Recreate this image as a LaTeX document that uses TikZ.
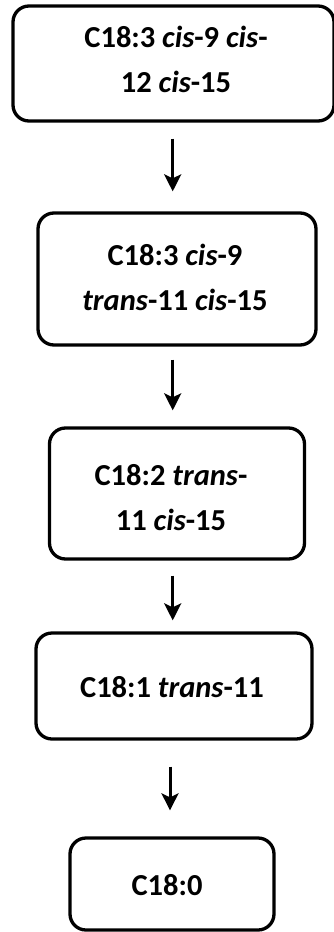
\documentclass[tikz,border=0pt]{standalone}
\usepackage{fontspec}
\setmainfont{Carlito}
\usetikzlibrary{arrows.meta}
\begin{document}
\begin{tikzpicture}[x=1pt,y=-1pt,
  stage/.style={draw=black, line width=3.3pt, rounded corners=16pt, inner sep=0pt},
  caption/.style={align=center, inner sep=0pt,
    font=\fontsize{30.5}{45}\selectfont\bfseries},
  flow/.style={line width=3pt, -{Stealth[length=17pt,width=17pt,inset=4pt]}}]
  \useasboundingbox (0,0) rectangle (334,932);
  % stage boxes, sized by their corner positions
  \node[stage, minimum width=321pt, minimum height=115pt] (b1) at (173.5,63.5) {};
  \node[stage, minimum width=278pt, minimum height=132pt] (b2) at (177,279) {};
  \node[stage, minimum width=255pt, minimum height=131pt] (b3) at (177,493.5) {};
  \node[stage, minimum width=276pt, minimum height=106pt] (b4) at (174,686) {};
  \node[stage, minimum width=204pt, minimum height=92pt] (b5) at (172,884) {};
  % the fatty acid in each box
  \node[caption] (t1) at (176,59.5) {C18:3 \textit{cis}-9 \textit{cis}-\\12 \textit{cis}-15};
  \node[caption] (t2) at (175,277.5) {C18:3 \textit{cis}-9\\\textit{trans}-11 \textit{cis}-15};
  \node[caption] (t3) at (171,497.5) {C18:2 \textit{trans}-\\11 \textit{cis}-15};
  \node[caption] (t4) at (172,687) {C18:1 \textit{trans}-11};
  \node[caption] (t5) at (167,885) {C18:0};
  % arrow axes
  \coordinate (ax) at (172.7,0);
  \coordinate (ay) at (170,0);
  \draw[flow, shorten <=16pt, shorten >=20pt] (b1.south -| ax) -- (b2.north -| ax);
  \draw[flow, shorten <=13pt, shorten >=16pt] (b2.south -| ax) -- (b3.north -| ax);
  \draw[flow, shorten <=15pt, shorten >=11pt] (b3.south -| ax) -- (b4.north -| ax);
  \draw[flow, shorten <=26pt, shorten >=26pt] (b4.south -| ay) -- (b5.north -| ay);
\end{tikzpicture}
\end{document}
